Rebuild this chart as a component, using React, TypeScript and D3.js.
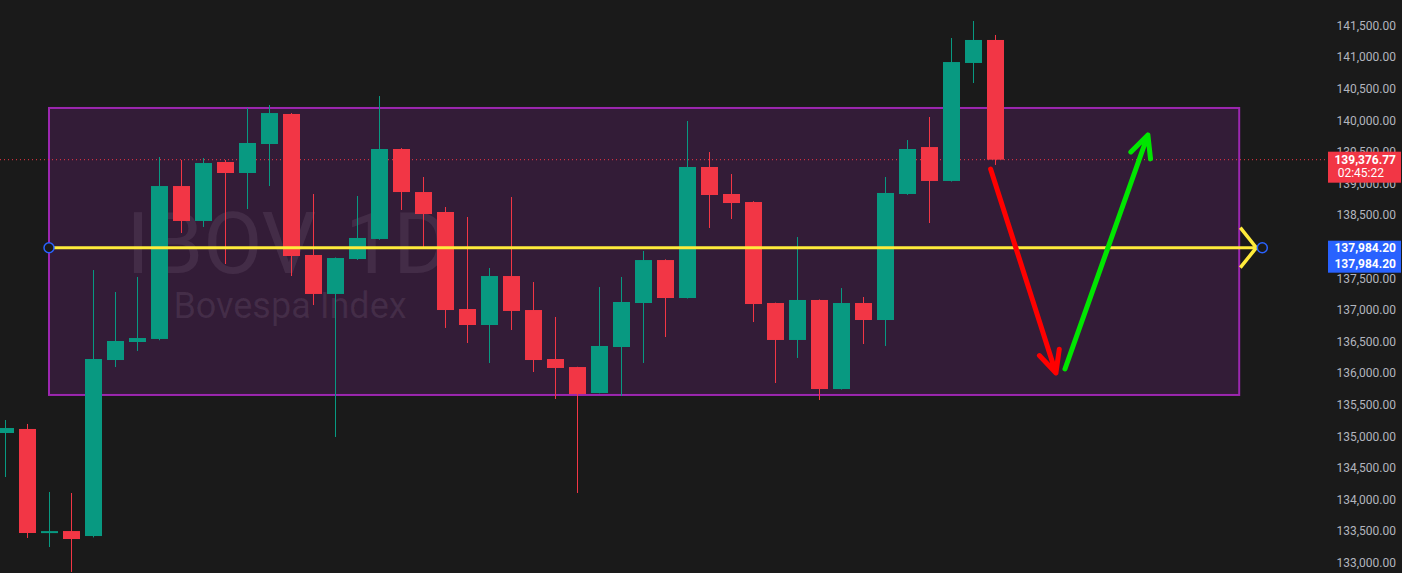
import React, { useEffect, useRef } from 'react';
import * as d3 from 'd3';

// daily candles, oldest first: [open, high, low, close]
const opens = [135052, 135116, 133470, 133501, 133422, 136207, 136492, 136540, 138960, 138407, 139340, 139166, 139625, 140100, 137869, 137252, 137805, 138122, 139546, 138865, 138549, 137014, 136761, 137536, 136998, 136223, 136096, 135685, 136413, 137109, 137789, 137188, 139261, 138834, 138707, 137109, 136524, 137157, 135748, 137109, 136840, 138834, 139577, 139040, 140907, 141271];
const highs = [135258, 135195, 134119, 134103, 137631, 137283, 137521, 139419, 139372, 139403, 139372, 140195, 140242, 140115, 138834, 137830, 138802, 140384, 139560, 139103, 138628, 138470, 137663, 138786, 137441, 136888, 136100, 137362, 137521, 137932, 137800, 139989, 139498, 139150, 138720, 137115, 138153, 137165, 137346, 137204, 139103, 139688, 140052, 141302, 141571, 141350];
const lows = [134356, 133391, 133248, 132853, 133400, 136096, 136350, 136520, 138217, 138312, 137726, 138596, 138960, 137536, 137077, 134989, 137790, 138110, 138581, 137995, 136714, 136476, 136160, 136682, 136017, 135590, 134103, 135680, 135638, 136160, 136571, 137180, 138296, 138438, 136808, 135843, 136239, 135574, 135740, 136460, 136429, 138820, 138375, 139030, 140590, 139293];
const closes = [135131, 133470, 133500, 133375, 136223, 136508, 136555, 138960, 138407, 139324, 139166, 139641, 140115, 137853, 137252, 137821, 138138, 139546, 138865, 138517, 136998, 136761, 137536, 136983, 136207, 136081, 135669, 136429, 137125, 137789, 137188, 139261, 138818, 138691, 137093, 136524, 137157, 135748, 137109, 136840, 138850, 139546, 139040, 140922, 141271, 139376.77];

const priceTicks = d3.range(133000, 141501, 500);

// drawings in [bar index, price]
const rangeBox = { from: 2, to: 56.1, top: 140195, bottom: 135654 };
const levelLine = { from: 2, to: 57.15, price: 137984.2 };
const downArrow: [number, number][] = [[44.8, 139229], [47.77, 136002]];
const upArrow: [number, number][] = [[48.18, 136065], [51.95, 139767]];

const lastPrice = 139376.77;
const countdown = '02:45:22';

const W = 1402;
const H = 573;
const BG = '#1a1a1a';
const UP = '#089981';
const DOWN = '#f23645';
const FONT = 'Roboto, "Noto Sans", sans-serif';

const fmt = d3.format(',.2f');

export default function App() {
  const svgRef = useRef<SVGSVGElement>(null);

  useEffect(() => {
    document.body.style.margin = '0';
    if (!svgRef.current) return;
    const svg = d3.select(svgRef.current);
    svg.selectAll('*').remove();

    const x = d3.scaleLinear().domain([0, 45]).range([5, 995]);
    const y = d3.scaleLinear().domain([133000, 141500]).range([562.7, 25.5]);
    const bodyW = 17;

    svg.append('rect').attr('width', W).attr('height', H).attr('fill', BG);

    // watermark
    const wm = svg.append('g').attr('font-family', FONT).attr('fill', 'rgba(255,255,255,0.09)').attr('text-anchor', 'middle');
    wm.append('text').attr('x', 288).attr('y', 273).attr('font-size', 86).text('IBOV, 1D');
    wm.append('text').attr('x', 290).attr('y', 318).attr('font-size', 36).text('Bovespa Index');

    // range rectangle
    svg.append('rect')
      .attr('x', x(rangeBox.from))
      .attr('y', y(rangeBox.top))
      .attr('width', x(rangeBox.to) - x(rangeBox.from))
      .attr('height', y(rangeBox.bottom) - y(rangeBox.top))
      .attr('fill', 'rgba(156,39,176,0.2)')
      .attr('stroke', '#9c27b0')
      .attr('stroke-width', 2);

    // last price dotted line
    svg.append('line')
      .attr('x1', 0).attr('x2', 1330)
      .attr('y1', y(lastPrice)).attr('y2', y(lastPrice))
      .attr('stroke', DOWN).attr('stroke-width', 1)
      .attr('stroke-dasharray', '1,3');

    // candles
    const idx = d3.range(opens.length);
    const cg = svg.append('g');
    idx.forEach(i => {
      const o = opens[i], c = closes[i];
      const col = c >= o ? UP : DOWN;
      const cx = Math.round(x(i)) + 0.5;
      cg.append('line')
        .attr('x1', cx).attr('x2', cx)
        .attr('y1', y(highs[i])).attr('y2', y(lows[i]))
        .attr('stroke', col).attr('stroke-width', 1);
      const top = y(Math.max(o, c));
      const h = Math.max(2, y(Math.min(o, c)) - top);
      cg.append('rect')
        .attr('x', cx - bodyW / 2).attr('y', top)
        .attr('width', bodyW).attr('height', h)
        .attr('fill', col);
    });

    // horizontal level with arrow head
    const ly = y(levelLine.price);
    const lx1 = x(levelLine.from);
    const lx2 = x(levelLine.to);
    svg.append('line')
      .attr('x1', lx1).attr('x2', lx2 - 6)
      .attr('y1', ly).attr('y2', ly)
      .attr('stroke', '#ffeb3b').attr('stroke-width', 3);
    svg.append('path')
      .attr('d', `M${lx2 - 22},${ly - 20}L${lx2 - 6},${ly}L${lx2 - 22},${ly + 20}`)
      .attr('fill', 'none').attr('stroke', '#ffeb3b').attr('stroke-width', 3.5);
    [lx1, lx2].forEach(px => {
      svg.append('circle')
        .attr('cx', px).attr('cy', ly).attr('r', 5)
        .attr('fill', BG).attr('stroke', '#2962ff').attr('stroke-width', 1.5);
    });

    // hand-drawn arrows
    const drawArrow = (pts: [number, number][], color: string) => {
      const [a, b] = pts.map(([i, p]) => [x(i), y(p)]);
      const ang = Math.atan2(b[1] - a[1], b[0] - a[0]);
      const len = 24;
      const spread = 0.45;
      const h1 = [b[0] - len * Math.cos(ang - spread), b[1] - len * Math.sin(ang - spread)];
      const h2 = [b[0] - len * Math.cos(ang + spread), b[1] - len * Math.sin(ang + spread)];
      svg.append('path')
        .attr('d', `M${a[0]},${a[1]}L${b[0]},${b[1]}M${h1[0]},${h1[1]}L${b[0]},${b[1]}L${h2[0]},${h2[1]}`)
        .attr('fill', 'none').attr('stroke', color).attr('stroke-width', 5)
        .attr('stroke-linecap', 'round').attr('stroke-linejoin', 'round');
    };
    drawArrow(downArrow, '#ff0000');
    drawArrow(upArrow, '#00e600');

    // price scale
    const ax = svg.append('g').attr('font-family', FONT).attr('font-size', 12).attr('fill', '#b2b5be').attr('text-anchor', 'end');
    priceTicks.forEach(p => {
      ax.append('text').attr('x', 1396).attr('y', y(p)).attr('dy', '0.35em').text(fmt(p));
    });

    // last price tag
    const ry = y(lastPrice);
    svg.append('rect').attr('x', 1328).attr('y', ry - 8).attr('width', 73).attr('height', 31).attr('fill', DOWN);
    // level tag
    svg.append('rect').attr('x', 1328).attr('y', ly - 7).attr('width', 73).attr('height', 32).attr('fill', '#2962ff');

    const tg = svg.append('g').attr('font-family', FONT).attr('font-size', 12).attr('fill', '#ffffff').attr('text-anchor', 'end');
    tg.append('text').attr('x', 1396).attr('y', ry).attr('dy', '0.35em').attr('font-weight', 'bold').text(fmt(lastPrice));
    tg.append('text').attr('x', 1384).attr('y', ry + 13).attr('dy', '0.35em').text(countdown);
    tg.append('text').attr('x', 1396).attr('y', ly).attr('dy', '0.35em').attr('font-weight', 'bold').text(fmt(levelLine.price));
    tg.append('text').attr('x', 1396).attr('y', ly + 16).attr('dy', '0.35em').attr('font-weight', 'bold').text(fmt(levelLine.price));
  }, []);

  return <svg ref={svgRef} width={W} height={H} style={{ display: 'block' }} />;
}
